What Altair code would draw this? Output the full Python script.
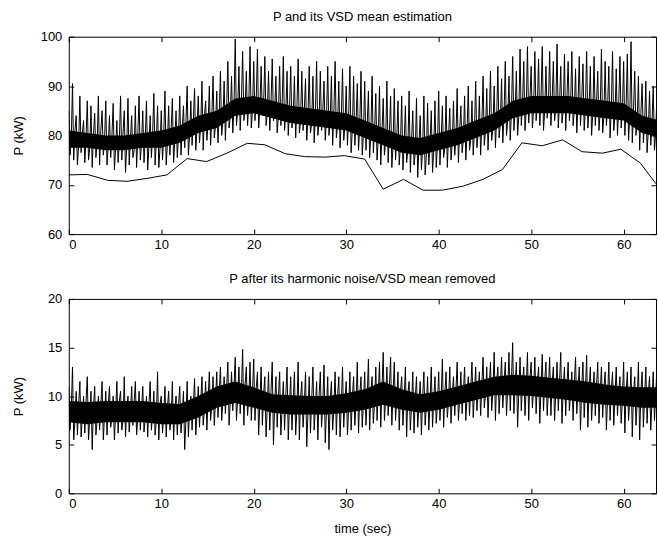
import altair as alt
import pandas as pd

FONT = "Liberation Sans"

# ---------------- data ----------------
CYCLE = 0.4  # one peak / trough / mid triple every 0.4 s

# upper panel: P signal, local peaks, troughs and mid-band samples (kW)
top_peaks = [
    85, 90.5, 84, 88, 83, 87, 86, 84.5, 88, 85,
    87, 84, 86.5, 83, 88, 85, 87.5, 84, 86, 88,
    85, 87, 84, 88.5, 86, 85, 89, 86, 87.5, 85,
    88, 86, 90, 87, 89.5, 88, 91, 87, 90, 92,
    89, 93, 91, 95, 92, 99.5, 94, 97, 93, 98,
    95, 97.5, 94, 96, 93, 95.5, 92, 94, 96, 93,
    94, 92, 95.5, 93, 91.5, 94, 92, 95, 93, 91,
    94, 92, 95, 91, 93.5, 90, 94, 92, 90.5, 93,
    91, 89, 92, 88.5, 90, 87.5, 91, 88, 89.5, 87,
    88, 86, 89, 85, 87.5, 84, 88, 86.5, 85, 87,
    89, 86, 88, 85.5, 87, 89.5, 86, 88, 90, 87,
    91, 88, 92, 89.5, 93, 90, 94, 91.5, 95, 92,
    96, 93, 97.5, 95, 98, 94, 97, 95.5, 98, 94,
    97, 95, 98.5, 94, 96.5, 95, 97, 93.5, 96, 94.5,
    97, 94, 96, 93, 97.5, 95, 94, 97, 93.5, 96,
    95, 96.5, 99, 93, 92, 90.5, 91, 89, 90, 88.5,
]
top_troughs = [
    76, 75, 74, 76.5, 74.5, 75, 73.5, 75.5, 74, 76,
    74, 75.5, 73, 74.5, 75, 72.5, 74, 75.5, 73.5, 75,
    74.5, 73, 75.5, 74, 73.5, 75, 74, 76, 74.5, 75.5,
    76, 77.5, 76, 78, 77, 78.5, 77, 79, 78, 79.5,
    78.5, 80, 79, 81.5, 80.5, 82, 81, 83, 82, 81.5,
    83, 81.5, 84, 82, 81, 83, 80.5, 82, 81, 80,
    81.5, 79.5, 80.5, 81, 79, 80.5, 78.5, 80, 81, 79,
    80, 78, 79.5, 77.5, 79, 78, 76.5, 78, 77, 76,
    77, 75.5, 76.5, 75, 74, 76, 74.5, 73.5, 75, 74,
    73, 74.5, 72.5, 74, 71.5, 73, 72, 74, 72.5, 73.5,
    74, 75.5, 73.5, 75, 76, 74.5, 76.5, 75, 77, 76,
    77.5, 76, 78, 77, 79, 77.5, 79.5, 78.5, 80, 79,
    81, 80, 82, 81, 82.5, 81.5, 83, 82, 81, 83.5,
    82, 83, 81.5, 82.5, 81, 83, 82, 80.5, 82, 81,
    81.5, 80, 82, 81, 80.5, 82, 79.5, 81, 80, 81.5,
    80, 79, 78.5, 80, 77, 78.5, 76.5, 78, 77, 76.5,
]
top_mids = [
    79, 81, 78, 80.5, 79.5, 77.5, 80, 78.5, 81, 79,
    78, 80, 77.5, 79, 80.5, 78, 79.5, 77, 80, 78.5,
    79.5, 78, 80.5, 79, 77.5, 80, 78.5, 81, 79, 80,
    81, 82.5, 80, 83, 81.5, 82, 84, 82.5, 83.5, 82,
    84, 83, 85.5, 84, 86, 85, 87, 85.5, 86.5, 85,
    87, 85.5, 86, 84.5, 86.5, 85, 84, 86, 84.5, 85.5,
    84, 85.5, 83, 85, 84, 82.5, 84.5, 83, 85, 83.5,
    83, 84.5, 82, 83.5, 82, 84, 81.5, 83, 82, 80.5,
    82, 80.5, 81, 79.5, 80.5, 79, 80, 78, 79.5, 78,
    78.5, 77, 79, 76.5, 78, 77.5, 76, 78.5, 77, 78,
    79, 77.5, 80, 78.5, 79.5, 81, 79, 80.5, 79, 81,
    80.5, 82, 81, 83, 81.5, 83.5, 82.5, 84, 83, 84.5,
    85, 84, 86.5, 85, 87, 85.5, 86, 87.5, 85, 86.5,
    87, 85.5, 86.5, 85, 87.5, 86, 85, 86.5, 87, 85.5,
    86, 84.5, 86.5, 85, 84, 86, 85.5, 84, 86, 85,
    85.5, 84, 85, 83, 84.5, 82.5, 81, 82.5, 80.5, 81.5,
]
# dense (solid-looking) core of each signal, every 2 s
core_t = [0, 2, 4, 6, 8, 10, 12, 14, 16, 18, 20, 22, 24, 26, 28, 30, 32,
          34, 36, 38, 40, 42, 44, 46, 48, 50, 52, 54, 56, 58, 60, 62, 64]
top_core_lo = [77.5, 77.5, 77, 77, 77.5, 77.5, 78.5, 80.5, 81.5, 84, 84.5, 83.5, 82.5, 82, 81.5, 81, 79.5,
               78, 76.5, 76, 77, 78, 79.5, 81, 83.5, 84.5, 84.5, 84.5, 84, 83.5, 83, 80.5, 79.5]
top_core_hi = [81, 80.5, 80, 80, 80.5, 81, 82, 84, 85, 87.5, 88, 87, 86, 85.5, 85, 84.5, 83,
               81.5, 80, 79.5, 80.5, 81.5, 83, 84.5, 87, 88, 88, 88, 87.5, 87, 86.5, 84, 83]

# VSD mean estimate
vsd_t = [0, 2.0, 4.2, 6.3, 8.5, 10.6, 12.8, 14.9, 17.1, 19.3, 21.2, 23.4, 25.5, 27.7, 29.8, 32.0,
         34.0, 36.2, 38.3, 40.4, 42.6, 44.8, 46.9, 49.0, 51.2, 53.4, 55.5, 57.7, 59.7, 61.8, 63.5]
vsd_v = [72.0, 72.1, 70.9, 70.7, 71.3, 72.0, 75.3, 74.7, 76.4, 78.4, 78.1, 76.3, 75.7, 75.6, 75.9, 75.2,
         69.1, 71.1, 68.9, 68.9, 69.7, 71.1, 73.1, 78.5, 77.9, 79.1, 76.7, 76.4, 77.2, 74.4, 70.2]

# lower panel: residual P, local highs, lows and mid-band samples (kW)
bot_hi = [
    11, 13, 10.5, 11.5, 10, 12, 10.5, 11, 10, 11.5,
    10.5, 11, 10, 11.5, 10.5, 12, 10, 11, 11.5, 10.5,
    11, 10, 11.5, 10.5, 12.5, 10, 11, 10.5, 11.5, 10,
    11, 10.5, 11.5, 10, 11.8, 11, 12, 11.5, 12.5, 12,
    12.5, 13, 12, 13.5, 12.5, 14, 13, 14.8, 13, 13.5,
    13.8, 12.5, 13, 12, 12.5, 13.5, 12, 12.5, 11.5, 13,
    12, 12.5, 13.5, 11.5, 12.5, 12, 13, 11.5, 12.5, 13.2,
    12, 11.5, 12.5, 12, 13, 11.5, 12.5, 12, 13.5, 12,
    12.5, 13.8, 12, 13, 13.5, 14.5, 13, 14, 13.5, 12.5,
    12, 13, 11.5, 12.5, 12, 11.5, 12.5, 12, 13, 12,
    12.5, 13.8, 12.5, 13, 12, 13.5, 12.5, 13, 12, 13.5,
    13, 12.5, 14, 13, 13.5, 14.5, 13, 14, 13.5, 14.5,
    15.5, 13.5, 14, 13, 14.5, 13.5, 14, 13, 14.3, 13.5,
    14, 13, 13.5, 14.5, 13, 13.5, 12.5, 14, 13, 13.5,
    14.2, 13, 12.5, 13.5, 13, 12.5, 13.5, 12.5, 13, 12,
    13.5, 12.5, 13, 12, 13.5, 12.5, 13, 12, 12.5, 13,
]
bot_lo = [
    6.5, 5.5, 6, 5.8, 6.2, 5.5, 4.5, 6, 6.5, 5.5,
    6, 6.8, 5.5, 6.2, 6.5, 5.8, 6.3, 7, 6, 6.5,
    6.3, 5.8, 6.5, 6, 5.5, 6.2, 5.8, 6.5, 5.5, 6,
    6.2, 4.5, 5.8, 6.5, 6, 6.8, 7, 6.5, 7.5, 7,
    7.8, 7.5, 8.2, 7, 8.5, 7.5, 8.2, 7, 8, 7.5,
    7.5, 6, 7, 5.8, 6.5, 5, 6.8, 6, 6.5, 5.5,
    6.5, 6, 5.5, 6.8, 4.8, 6.2, 6.5, 5.5, 6.8, 5.2,
    4.5, 6.5, 6, 5.8, 6.8, 6, 6.5, 7, 6.2, 6.8,
    7, 6.5, 7.2, 7.5, 6.8, 7.5, 8, 7, 7.5, 6.5,
    7, 5.8, 6.5, 6.2, 6.8, 6, 7, 6.5, 6.8, 7.2,
    7.5, 6.8, 7.8, 7.2, 8, 7.5, 8.2, 7.5, 8, 7.8,
    8.5, 8, 8.8, 7.8, 8.5, 7.5, 8.2, 8.8, 8, 8.5,
    8.2, 6.8, 8.5, 8, 7.5, 8.8, 8.2, 7.2, 8.5, 8,
    8, 7.5, 8.5, 7.2, 8, 8.5, 7.5, 8.2, 6.5, 7.8,
    6.8, 7.5, 8, 7.2, 7.8, 6.5, 7.5, 7, 8, 7.2,
    6.2, 7.5, 5.8, 7, 5.5, 6.8, 7.2, 6.5, 7.5, 7,
]
bot_mids = [
    8.5, 7.5, 9, 8, 9.5, 7.8, 8.8, 7.5, 9.2, 8,
    9, 7.8, 8.5, 9.5, 7.5, 8.8, 8.2, 9.3, 7.8, 8.6,
    7.8, 9, 8.2, 7.5, 9.2, 8, 8.8, 7.6, 8.5, 9,
    8, 7.5, 8.8, 9, 8.2, 9.5, 8.6, 9.8, 9, 9.6,
    10.2, 9.5, 10.8, 9.8, 11, 10, 10.6, 11.2, 9.8, 10.5,
    10.8, 9.5, 10.2, 9, 10.5, 9.2, 9.8, 8.8, 10, 9.3,
    9.5, 8.6, 9.8, 9, 8.4, 9.6, 8.8, 10, 9.2, 8.7,
    9.4, 8.8, 10, 9.1, 9.6, 8.7, 9.9, 9.3, 10.1, 9.5,
    9.8, 10.5, 9.4, 10.2, 10.8, 9.9, 11, 10.3, 9.8, 10.4,
    9.6, 10.2, 9.1, 9.8, 9.3, 9.9, 8.9, 9.5, 9.7, 9.2,
    9.8, 10.3, 9.4, 10.1, 10.6, 9.7, 10.4, 9.9, 10.8, 10.2,
    10.5, 11.2, 10.3, 11, 10.7, 11.5, 10.9, 11.3, 10.8, 11.6,
    11.2, 10.6, 11.5, 10.9, 11.8, 10.7, 11.3, 11, 11.6, 10.8,
    11.2, 10.5, 11.4, 10.8, 11.1, 10.4, 11.3, 10.7, 11, 10.5,
    10.8, 10.2, 11, 10.4, 10.7, 9.9, 10.6, 10.1, 10.5, 9.8,
    10.4, 9.7, 10.3, 9.6, 10.5, 9.8, 10.2, 9.5, 10.1, 9.9,
]
bot_core_lo = [7.3, 7.1, 7.3, 7.3, 7.3, 7.1, 7.1, 7.8, 8.8, 9.3, 8.8, 8.3, 8.1, 8.1, 8.1, 8.3, 8.6,
               9.1, 8.6, 8.3, 8.6, 9.1, 9.6, 10.1, 10.1, 10, 9.8, 9.6, 9.3, 9.1, 9, 8.8, 8.8]
bot_core_hi = [9.5, 9.4, 9.5, 9.5, 9.5, 9.3, 9.2, 10, 11, 11.5, 10.9, 10.2, 10.1, 10, 10, 10.3, 10.7,
               11.5, 10.7, 10.2, 10.5, 11, 11.5, 12, 12.2, 12.1, 11.9, 11.7, 11.5, 11.2, 11, 10.9, 10.9]

x_ticks = [0, 10, 20, 30, 40, 50, 60]
top_y_ticks = [60, 70, 80, 90, 100]
bot_y_ticks = [0, 5, 10, 15, 20]
x_domain = [0, 63.5]
top_domain = [60, 100]
bot_domain = [0, 20]


def sample_table(highs, lows, mids):
    rows = []
    for i, (h, l, m) in enumerate(zip(highs, lows, mids)):
        t0 = i * CYCLE
        rows.append({"t": round(t0, 4), "v": h})
        rows.append({"t": round(t0 + CYCLE / 3, 4), "v": l})
        rows.append({"t": round(t0 + 2 * CYCLE / 3, 4), "v": m})
    return pd.DataFrame(rows)


top_sig = sample_table(top_peaks, top_troughs, top_mids)
bot_sig = sample_table(bot_hi, bot_lo, bot_mids)
top_core = pd.DataFrame({"t": core_t, "lo": top_core_lo, "hi": top_core_hi})
bot_core = pd.DataFrame({"t": core_t, "lo": bot_core_lo, "hi": bot_core_hi})
vsd = pd.DataFrame({"t": vsd_t, "v": vsd_v})

TICK = 5
common_axis = dict(domain=False, grid=False, tickSize=TICK, offset=-TICK,
                   tickColor="black", labelColor="black", titleColor="black",
                   labelFont=FONT, titleFont=FONT, labelFontSize=13, titleFontSize=13,
                   titleFontWeight="normal")


def panel(sig, core, y_domain, y_ticks, title, y_title_pad, x_title=None, extra=None):
    xs = alt.Scale(domain=x_domain, nice=False, zero=False)
    ys = alt.Scale(domain=y_domain, nice=False, zero=False)
    # dense core band; also carries the top / right (tick only) axes
    core_layer = alt.Chart(core).mark_area(color="black", clip=True).encode(
        x=alt.X("t:Q", scale=xs, axis=alt.Axis(orient="top", values=x_ticks, labels=False,
                                                title=None, **common_axis)),
        y=alt.Y("lo:Q", scale=ys, axis=alt.Axis(orient="right", values=y_ticks, labels=False,
                                                 title=None, **common_axis)),
        y2="hi:Q",
    )
    xaxis_kw = dict(orient="bottom", values=x_ticks, labelPadding=4, format="d", **common_axis)
    if x_title:
        xaxis_kw["title"] = x_title
        xaxis_kw["titlePadding"] = 12
    else:
        xaxis_kw["title"] = None
    sig_layer = alt.Chart(sig).mark_line(color="black", strokeWidth=1, clip=True).encode(
        x=alt.X("t:Q", scale=xs, axis=alt.Axis(**xaxis_kw)),
        y=alt.Y("v:Q", scale=ys, axis=alt.Axis(orient="left", values=y_ticks, title="P (kW)",
                                                labelPadding=7, titlePadding=y_title_pad,
                                                format="d", **common_axis)),
        order="t:Q",
    )
    layers = [core_layer, sig_layer]
    if extra is not None:
        layers.append(
            alt.Chart(extra).mark_line(color="black", strokeWidth=1, clip=True).encode(
                x=alt.X("t:Q", scale=xs, axis=None),
                y=alt.Y("v:Q", scale=ys, axis=None),
                order="t:Q",
            )
        )
    return alt.layer(*layers).resolve_axis(x="independent", y="independent").properties(
        width=589,
        title=alt.TitleParams(title, font=FONT, fontSize=13, fontWeight="normal",
                              color="black", anchor="middle", frame="group", offset=7),
    )


top = panel(top_sig, top_core, top_domain, top_y_ticks, "P and its VSD mean estimation",
            15, extra=vsd).properties(height=198)
bottom = panel(bot_sig, bot_core, bot_domain, bot_y_ticks,
               "P after its harmonic noise/VSD mean removed", 22,
               x_title="time (sec)").properties(height=195)

chart = alt.vconcat(top, bottom, spacing=20).properties(
    padding={"left": 11, "right": 1, "top": 9, "bottom": 5},
    background="white",
).configure_view(stroke="black", strokeWidth=1)

chart.save("out.html", embed_options={"renderer": "svg", "actions": False})
